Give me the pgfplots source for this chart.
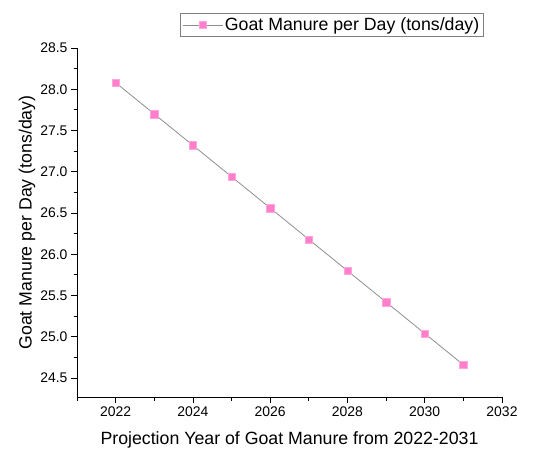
\documentclass[border=0pt]{standalone}
\usepackage{pgfplots}
\pgfplotsset{compat=1.18}
\usepackage{fontspec}
\setmainfont{Liberation Sans}
\definecolor{mpink}{HTML}{FF7FCC}
\definecolor{lgray}{HTML}{8E8E8E}
\begin{document}
\begin{tikzpicture}
\begin{axis}[
  scale only axis, width=425bp, height=349bp,
  xmin=2021, xmax=2032, ymin=24.27, ymax=28.5,
  axis lines=left, axis line style={-, line width=0.9pt, black},
  xtick={2022,2024,2026,2028,2030,2032},
  minor xtick={2021,2023,2025,2027,2029,2031},
  ytick={24.5,25,25.5,26,26.5,27,27.5,28,28.5},
  minor ytick={24.75,25.25,25.75,26.25,26.75,27.25,27.75,28.25},
  tick align=outside, major tick length=6bp, minor tick length=3.5bp,
  tick style={black, line width=0.8pt},
  /pgf/number format/assume math mode=true,
  xticklabel style={font=\fontsize{14}{16}\selectfont, /pgf/number format/1000 sep={}},
  yticklabel style={font=\fontsize{14}{16}\selectfont, /pgf/number format/.cd, fixed, fixed zerofill, precision=1},
  xlabel={Projection Year of Goat Manure from 2022-2031},
  ylabel={Goat Manure per Day (tons/day)},
  label style={font=\fontsize{17.8}{20}\selectfont},
  xlabel style={at={(axis description cs:0.5,-0.123)}, anchor=center},
  ylabel style={at={(axis description cs:-0.1176,0.5)}, anchor=center},
  legend style={at={(axis description cs:0.242,1.1003)}, anchor=north west, draw=gray, line width=0.6pt,
    font=\fontsize{17.8}{20}\selectfont, inner xsep=2pt, inner ysep=2.5pt},
  legend cell align=left,
  legend image code/.code={\draw[mark repeat=2,mark phase=2] plot coordinates {(0bp,0bp) (20bp,0bp) (40bp,0bp)};},
  clip=false
]
\addplot[color=lgray, line width=0.8pt, mark=square*, mark size=3.7bp,
  mark options={fill=mpink, draw=mpink!70!white, line width=0.4pt}]
  coordinates {
  (2022,28.08) (2023,27.70) (2024,27.32) (2025,26.94) (2026,26.56)
  (2027,26.18) (2028,25.80) (2029,25.42) (2030,25.04) (2031,24.66)
  };
\addlegendentry{Goat Manure per Day (tons/day)}
\end{axis}
\path ([shift={(-77bp,-56bp)}]current axis.south west) rectangle ([shift={(31bp,48bp)}]current axis.north east);
\end{tikzpicture}
\end{document}
